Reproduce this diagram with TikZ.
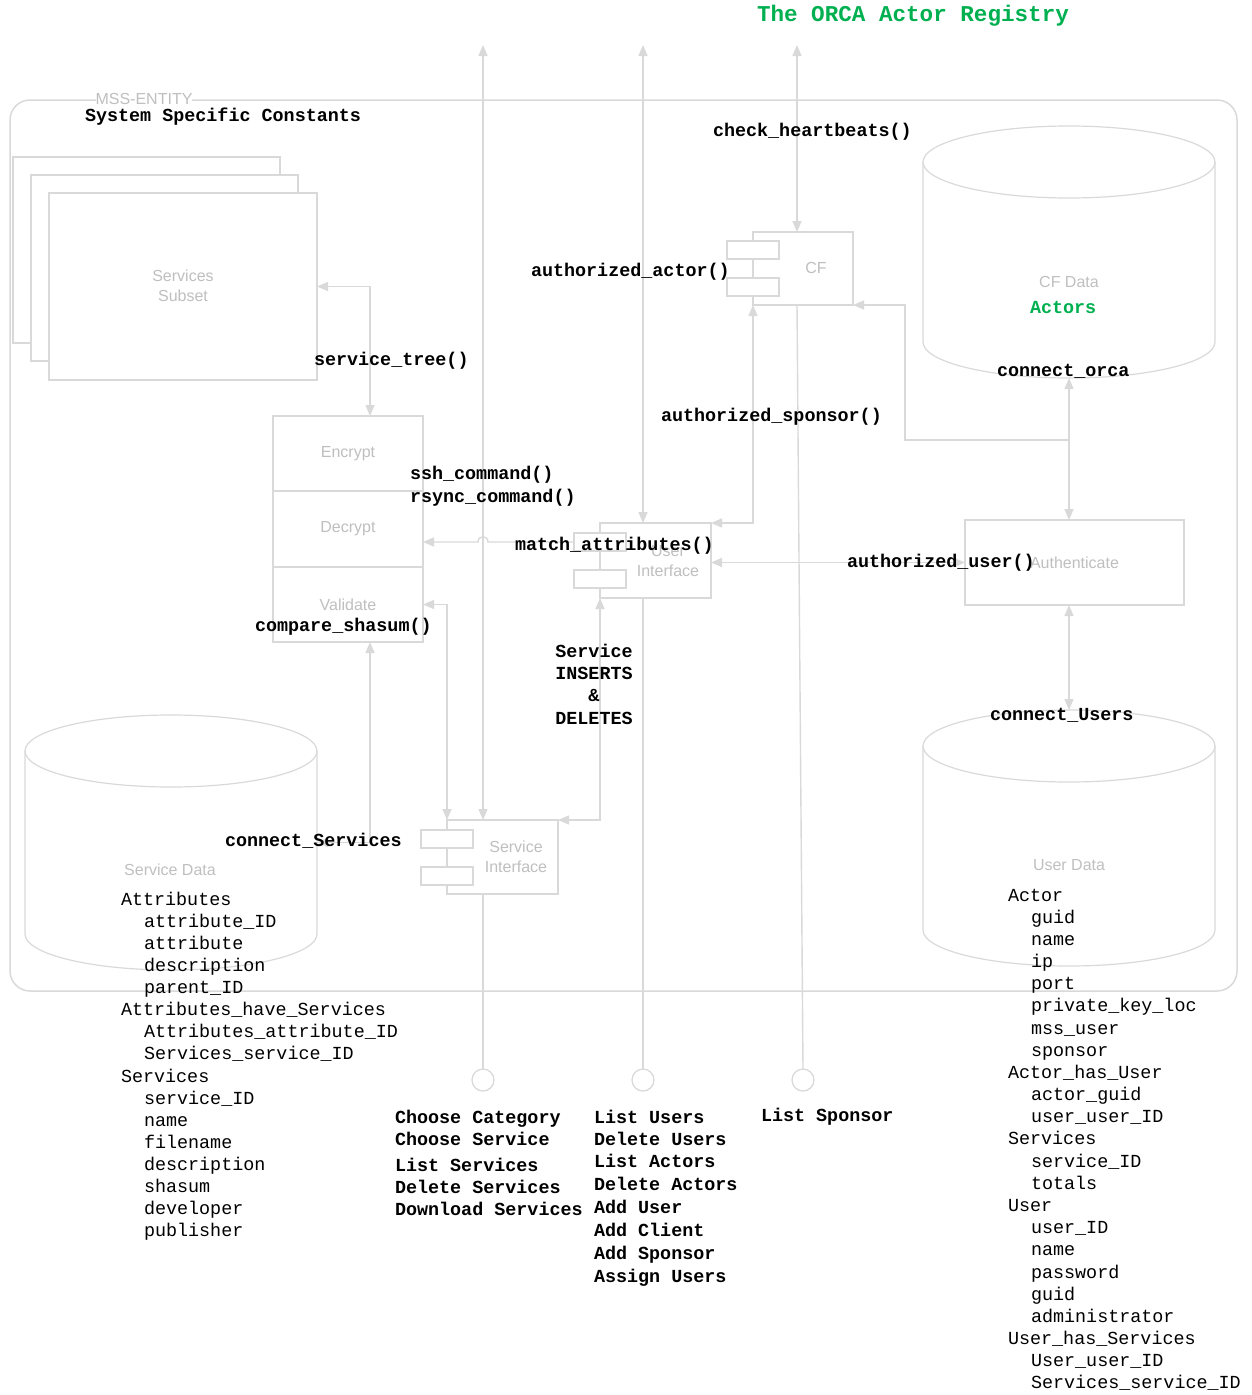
\documentclass[tikz,border=0pt]{standalone}
\usepackage{fontspec}
\setmainfont{Liberation Sans}
\newfontfamily\cmono{Liberation Mono}
\usetikzlibrary{arrows.meta}

\definecolor{linegrey}{HTML}{D9D9D9}
\definecolor{textgrey}{HTML}{BFBFBF}
\definecolor{orcagreen}{HTML}{00B050}

\begin{document}
\begin{tikzpicture}[x=1pt,y=-1pt,
  every node/.style={inner sep=0pt, outer sep=0pt},
  >={Triangle[length=11pt,width=9pt]},
  ln/.style={draw=linegrey, line width=1.5pt},
  conn/.style={draw=linegrey, line width=1.4pt},
  box/.style={draw=linegrey, line width=1.5pt, fill=white, anchor=north west,
    font=\fontsize{16}{19.5}\selectfont, text=textgrey, align=center},
  port/.style={draw=linegrey, line width=1.5pt, fill=white, anchor=north west,
    minimum width=52pt, minimum height=18pt},
  gtxt/.style={font=\fontsize{16}{19.5}\selectfont, text=textgrey, align=center},
  lbl/.style={font=\cmono\bfseries\fontsize{18.4}{22}\selectfont, anchor=base west},
  dat/.style={font=\cmono\fontsize{18.4}{22}\selectfont, anchor=base west},
  lolli/.style={circle, draw=linegrey, line width=1.3pt, minimum size=22pt},
]
\useasboundingbox (0,0) rectangle (1252,1395);

% title
\node[font=\cmono\bfseries\fontsize{22.6}{26}\selectfont, text=orcagreen, anchor=base west]
  (title) at (757,21) {The ORCA Actor Registry};

% entity frame
\node[draw=linegrey, line width=1.5pt, rounded corners=20pt, anchor=north west,
  minimum width=1227pt, minimum height=891pt] (mss) at (10,100) {};
\node[gtxt, fill=white] (mssname) at (144,99) {MSS-ENTITY};

% stacked service subsets
\node[box, minimum width=267pt, minimum height=186pt] (b1) at (13,157) {};
\node[box, minimum width=267pt, minimum height=186pt] (b2) at (31,175) {};
\node[box, minimum width=268pt, minimum height=187pt] (b3) at (49,193) {};
\node[gtxt] (b3txt) at (183,286) {Services\\Subset};

% encrypt / decrypt / validate stack
\node[box, minimum width=150pt, minimum height=75pt] (enc) at (273,416) {Encrypt};
\node[box, minimum width=150pt, minimum height=76pt] (dec) at (273,491) {Decrypt};
\node[box, minimum width=150pt, minimum height=75pt] (val) at (273,567) {Validate};

% CF component
\node[box, minimum width=100pt, minimum height=73pt] (cf) at (753,232) {};
\node[port] (cfp1) at (727,241) {};
\node[port] (cfp2) at (727,278) {};
\node[gtxt] (cftxt) at (816,268) {CF};

% user interface component
\node[box, minimum width=111pt, minimum height=75pt] (ui) at (600,523) {};
\node[port] (uip1) at (574,533) {};
\node[port] (uip2) at (574,570) {};
\node[gtxt] (uitxt) at (668,561) {User\\Interface};

% service interface component
\node[box, minimum width=111pt, minimum height=74pt] (si) at (447,820) {};
\node[port] (sip1) at (421,830) {};
\node[port] (sip2) at (421,867) {};
\node[gtxt] (sitxt) at (516,857) {Service\\Interface};

% authenticate
\node[box, minimum width=219pt, minimum height=85pt] (auth) at (965,520) {Authenticate};

% databases (outline nodes + cylinder drawings)
\node[anchor=north west, minimum width=292pt, minimum height=252pt] (cfdb) at (923,126) {};
\node[anchor=north west, minimum width=292pt, minimum height=256pt] (udb) at (923,710) {};
\node[anchor=north west, minimum width=292pt, minimum height=255pt] (sdb) at (25,715) {};

\draw[ln, line width=1.2pt] (1069,162) ellipse [x radius=146, y radius=36];
\draw[ln, line width=1.2pt] (923,162) -- (923,342)
  .. controls (923,361.9) and (988.4,378) .. (1069,378)
  .. controls (1149.6,378) and (1215,361.9) .. (1215,342) -- (1215,162);

\draw[ln, line width=1.2pt] (1069,746) ellipse [x radius=146, y radius=36];
\draw[ln, line width=1.2pt] (923,746) -- (923,930)
  .. controls (923,949.9) and (988.4,966) .. (1069,966)
  .. controls (1149.6,966) and (1215,949.9) .. (1215,930) -- (1215,746);

\draw[ln, line width=1.2pt] (171,751) ellipse [x radius=146, y radius=36];
\draw[ln, line width=1.2pt] (25,751) -- (25,934)
  .. controls (25,953.9) and (90.4,970) .. (171,970)
  .. controls (251.6,970) and (317,953.9) .. (317,934) -- (317,751);

\node[gtxt] (cfdbtxt) at (1069,282) {CF Data};
\node[gtxt] (udbtxt) at (1069,865) {User Data};
\node[gtxt] (sdbtxt) at (170,870) {Service Data};

% lollipop interfaces and free ends at the top
\node[lolli] (lp1) at (483,1080) {};
\node[lolli] (lp2) at (643,1080) {};
\node[lolli] (lp3) at (803,1080) {};
\coordinate (t1) at (483,45);
\coordinate (t2) at (643,45);
\coordinate (t3) at (797,45);
\coordinate (br) at (1069,440);

% connectors
\draw[conn,<->] (t1) -- (si.north west -| t1);
\draw[conn,<->] (t2) -- (ui.north west -| t2);
\draw[conn,<->] (t3) -- (cf.north west -| t3);
\draw[conn] (si.south west -| t1) -- (lp1.north);
\draw[conn] (ui.south west -| t2) -- (lp2.north);
\draw[conn] (cf.south west -| t3) -- (lp3.north);

\draw[conn,<->] (b3.east) -| ([xshift=22pt]enc.north);
\draw[conn,<->] (sdb.east) -| ([xshift=22pt]val.south);
\draw[conn,<->] (val.east) -| (si.north west);
\draw[conn,<->] (ui.south west) |- (si.north east);
\draw[conn,->] (uip1.west) -- (488,542)
  .. controls (488,535) and (478,535) .. (478,542) -- (dec.east |- uip1.west);
\draw[conn,<->] (cf.south west) |- (ui.north east);
\draw[conn,<->] (auth.west) -- (ui.east |- auth.west);
\draw[conn,<->] (cfdb.south) -- (auth.north -| cfdb.south);
\draw[conn,->] (br) -| ([xshift=52pt]cf.south east) -- (cf.south east);
\draw[conn,<->] (auth.south -| udb.north) -- (udb.north);

% operation labels
\node[lbl] (ssc) at (85,121) {System Specific Constants};
\node[lbl] (hb) at (713,136) {check\_heartbeats()};
\node[lbl] (aa) at (531,276) {authorized\_actor()};
\node[lbl] (st) at (314,365) {service\_tree()};
\node[lbl] (co) at (997,376) {connect\_orca};
\node[lbl] (as) at (661,421) {authorized\_sponsor()};
\node[lbl] (ssh) at (410,479) {ssh\_command()};
\node[lbl] (rs) at (410,502) {rsync\_command()};
\node[lbl] (ma) at (515,550) {match\_attributes()};
\node[lbl] (au) at (847,567) {authorized\_user()};
\node[lbl] (cs) at (255,631) {compare\_shasum()};
\node[lbl] (cu) at (990,720) {connect\_Users};
\node[lbl] (cserv) at (225,846) {connect\_Services};
\node[lbl, text=orcagreen] (actors) at (1030,313) {Actors};
\foreach \yy/\tx [count=\i] in {657/Service, 679/INSERTS, 701/\&, 724/DELETES}
  \node[lbl, anchor=base] (ins\i) at (594,\yy) {\tx};

% service operations
\foreach \yy/\tx [count=\i] in {1123/Choose Category, 1145/Choose Service,
    1171/List Services, 1193/Delete Services, 1215/Download Services}
  \node[lbl] (sop\i) at (395,\yy) {\tx};
% user operations
\foreach \yy/\tx [count=\i] in {1123/List Users, 1145/Delete Users,
    1167/List Actors, 1190/Delete Actors, 1213/Add User, 1236/Add Client,
    1259/Add Sponsor, 1282/Assign Users}
  \node[lbl] (uop\i) at (594,\yy) {\tx};
\node[lbl] (cop1) at (761,1121) {List Sponsor};

% service data tables
\foreach \lv/\tx [count=\i] in {0/Attributes, 1/attribute\_ID, 1/attribute,
    1/description, 1/parent\_ID, 0/Attributes\_have\_Services,
    1/Attributes\_attribute\_ID, 1/Services\_service\_ID, 0/Services,
    1/service\_ID, 1/name, 1/filename, 1/description, 1/shasum,
    1/developer, 1/publisher}
  \node[dat] (sd\i) at ({121+23*\lv},{905+22.13*(\i-1)}) {\tx};

% user data tables
\foreach \lv/\tx [count=\i] in {0/Actor, 1/guid, 1/name, 1/ip, 1/port,
    1/private\_key\_loc, 1/mss\_user, 1/sponsor, 0/Actor\_has\_User,
    1/actor\_guid, 1/user\_user\_ID, 0/Services, 1/service\_ID, 1/totals,
    0/User, 1/user\_ID, 1/name, 1/password, 1/guid, 1/administrator,
    0/User\_has\_Services, 1/User\_user\_ID, 1/Services\_service\_ID}
  \node[dat] (ud\i) at ({1008+23*\lv},{901+22.18*(\i-1)}) {\tx};

\end{tikzpicture}
\end{document}
